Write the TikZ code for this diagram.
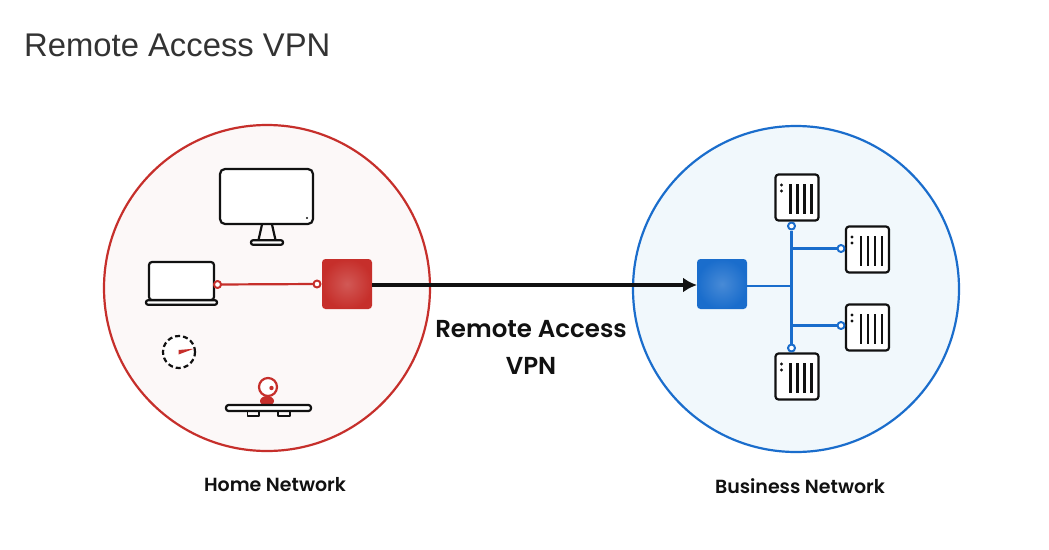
\documentclass[tikz,border=0pt]{standalone}
\usepackage{fontspec}
\usetikzlibrary{arrows.meta}
\setmainfont{Lato}
\newfontfamily\titlefont{Liberation Sans}
\newfontfamily\labelfont[UprightFont=* SemiBold]{Poppins}
\definecolor{homeRed}{HTML}{C62F2B}
\definecolor{homeFill}{HTML}{FCF8F8}
\definecolor{bizBlue}{HTML}{1A6DCC}
\definecolor{bizFill}{HTML}{F1F8FC}
\definecolor{inkBlack}{HTML}{111111}
\tikzset{
  zone/.style={circle,draw=#1,line width=2.2pt,minimum size=326pt,inner sep=0pt},
  port/.style={circle,draw=#1,fill=white,line width=2pt,minimum size=7pt,inner sep=0pt},
  gate/.style={rectangle,rounded corners=3.5pt,minimum size=50pt,inner sep=0pt,outer sep=0pt,inner color=#1!80!white,outer color=#1},
  device/.style={rectangle,draw=inkBlack,fill=white,line width=2.2pt,rounded corners=3pt,inner sep=0pt},
  srvbox/.style={device,minimum width=43pt,minimum height=46pt},
  netlabel/.style={font=\labelfont\fontsize{19}{24}\selectfont,text=inkBlack},
  bus/.style={bizBlue,line width=2.4pt,line cap=butt},
}
\begin{document}
\begin{tikzpicture}[line cap=round,line join=round,x=1pt,y=-1pt]
  \useasboundingbox[fill=white] (0,0) rectangle (1049,549);
  \node[anchor=base west,inner sep=0pt,text=black!80,font=\titlefont\fontsize{32.8}{38}\selectfont] (title) at (24,56) {Remote Access VPN};

  \node[zone=homeRed,fill=homeFill] (home) at (267,288) {};
  \node[zone=bizBlue,fill=bizFill] (biz) at (796,289) {};

  % home devices
  \node[device,minimum width=93pt,minimum height=55pt,rounded corners=5pt] (monitor) at (266.5,196.5) {};
  \fill[inkBlack] (307,218) circle (1.1pt);
  \draw[inkBlack,line width=2.2pt] (262,224.5) -- (258.5,240) (272,224.5) -- (275.5,240);
  \node[device,minimum width=32pt,minimum height=4.5pt,rounded corners=2pt] (monbase) at (267,242.5) {};
  \node[device,minimum width=65pt,minimum height=38pt] (laptop) at (181.5,281) {};
  \node[device,minimum width=71pt,minimum height=4.5pt,rounded corners=2pt] (lapbase) at (181.5,302.5) {};
  \node[circle,draw=inkBlack,line width=2.2pt,line cap=butt,fill=white,minimum size=32pt,inner sep=0pt,dash pattern=on 5pt off 3pt] (gauge) at (179,352) {};
  \fill[homeRed] (178.5,350) -- (194,348.7) -- (178.5,354.5) -- cycle;
  \node[circle,draw=homeRed,fill=white,line width=2.2pt,minimum size=18pt,inner sep=0pt] (webcam) at (268,387) {};
  \fill[homeRed] (271.5,388) circle (2.2pt);
  \fill[homeRed] (267,401) ellipse (7pt and 5pt);
  \draw[inkBlack,line width=1.8pt] (247.5,411) rectangle (259,416);
  \draw[inkBlack,line width=1.8pt] (278,411) rectangle (290,416);
  \node[device,minimum width=85pt,minimum height=6pt,rounded corners=2.5pt] (webbar) at (268.5,408) {};

  % gateways and tunnel
  \node[gate=homeRed] (redgate) at (347,284) {};
  \node[gate=bizBlue] (bluegate) at (722,284) {};
  \draw[-{Latex[length=14pt,width=15pt]},inkBlack,line width=3.6pt,line cap=butt] (redgate.east) ++(0,1) -- (bluegate.west |- 0,285);
  \draw[homeRed,line width=2.2pt] (217.5,284.5) -- (317,284);
  \node[port=homeRed] (lapport) at (217.5,284.5) {};
  \node[port=homeRed] (gateport) at (317,284) {};

  % servers
  \foreach \nm/\cx/\cy in {srvA/797/197.5,srvB/867.5/249.5,srvC/867.5/327.5,srvD/797/376.5}{
    \node[srvbox] (\nm) at (\cx,\cy) {};
    \fill[inkBlack] (\cx-15.5,\cy-12.5) circle (1.7pt) (\cx-15.5,\cy-6.5) circle (1.7pt);
    \foreach \dx in {-6.5,0.5,7.5,14.5}
      \draw[inkBlack,line width=2.1pt,line cap=butt] (\cx+\dx,\cy-13.5) -- (\cx+\dx,\cy+16.5);
  }
  \coordinate (busmid) at (791.5,286);
  \node[port=bizBlue] (portA) at (791.5,226) {};
  \node[port=bizBlue] (portB) at (841,248.5) {};
  \node[port=bizBlue] (portC) at (841,325.5) {};
  \node[port=bizBlue] (portD) at (791.5,348) {};
  \draw[bus] (portA) -- (portD);
  \draw[bus] (bluegate.east |- busmid) -- (busmid);
  \draw[bus] (portB) -- (portB -| busmid);
  \draw[bus] (portC) -- (portC -| busmid);

  % labels
  \node[font=\labelfont\fontsize{24.5}{37}\selectfont,text=inkBlack,align=center] (vpnlabel) at (531,347.5) {Remote Access\\VPN};
  \node[netlabel] (homelabel) at (275,485) {Home Network};
  \node[netlabel] (bizlabel) at (800,486) {Business Network};
\end{tikzpicture}
\end{document}
